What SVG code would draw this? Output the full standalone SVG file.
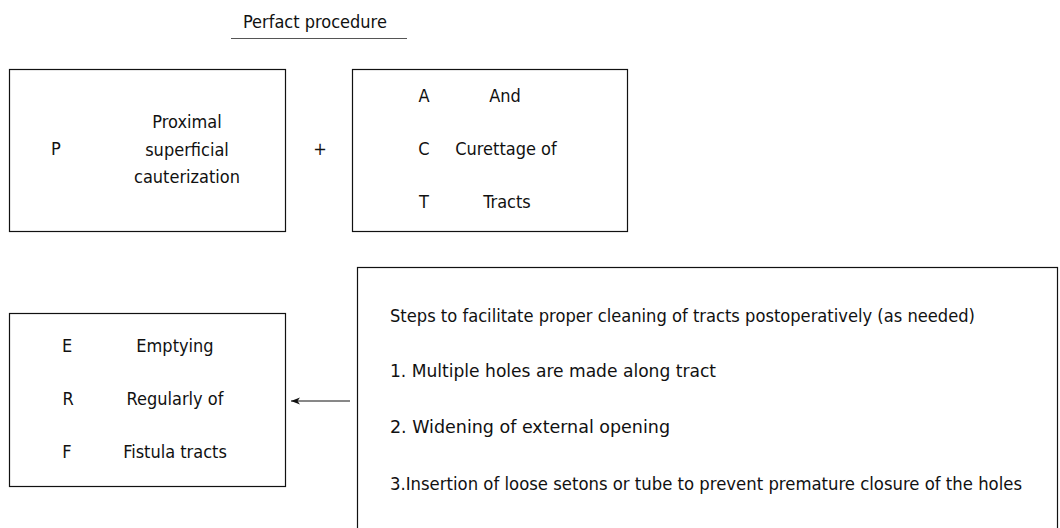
<svg xmlns="http://www.w3.org/2000/svg" width="1060" height="528" viewBox="0 0 1060 528">
<style>
text{font-family:"DejaVu Sans Condensed","DejaVu Sans",sans-serif;font-size:18px;fill:#111}
.m{text-anchor:middle}
.box{fill:#fff;stroke:#111;stroke-width:1.2}
.conn{stroke:#111;stroke-width:1;fill:none}
</style>
<defs>
<marker id="ah" markerWidth="10" markerHeight="8" refX="9" refY="4" orient="auto" markerUnits="userSpaceOnUse">
<path d="M0,0.5 L9,4 L0,7.5 L2.5,4 Z" fill="#111"/>
</marker>
</defs>
<rect width="1060" height="528" fill="#fff"/>
<g id="title">
<text x="243" y="28">Perfact procedure</text>
<line x1="231" y1="38.5" x2="407" y2="38.5" stroke="#555" stroke-width="1.2"/>
</g>
<g id="node-p">
<rect class="box" x="9.5" y="69.5" width="276" height="162"/>
<text class="m" x="56" y="155">P</text>
<text class="m" x="187" y="128">Proximal</text>
<text class="m" x="187" y="155.5">superficial</text>
<text class="m" x="187" y="183">cauterization</text>
</g>
<g id="plus">
<text class="m" x="320" y="155">+</text>
</g>
<g id="node-act">
<rect class="box" x="352.5" y="69.5" width="275" height="162"/>
<text class="m" x="424" y="102">A</text>
<text class="m" x="505" y="102">And</text>
<text class="m" x="424" y="155">C</text>
<text class="m" x="506" y="155">Curettage of</text>
<text class="m" x="424" y="208">T</text>
<text class="m" x="507" y="208">Tracts</text>
</g>
<g id="node-erf">
<rect class="box" x="9.5" y="313.5" width="276" height="173"/>
<text class="m" x="67" y="352">E</text>
<text class="m" x="175" y="352">Emptying</text>
<text class="m" x="68" y="405">R</text>
<text class="m" x="175" y="405">Regularly of</text>
<text class="m" x="67" y="458">F</text>
<text class="m" x="175" y="458">Fistula tracts</text>
</g>
<g id="node-steps">
<rect class="box" x="357.5" y="267.5" width="700" height="280"/>
<text x="390" y="322" textLength="585" lengthAdjust="spacingAndGlyphs">Steps to facilitate proper cleaning of tracts postoperatively (as needed)</text>
<text x="390" y="377" textLength="326" lengthAdjust="spacingAndGlyphs">1. Multiple holes are made along tract</text>
<text x="390" y="433" textLength="280" lengthAdjust="spacingAndGlyphs">2. Widening of external opening</text>
<text x="390" y="490" textLength="632" lengthAdjust="spacingAndGlyphs">3.Insertion of loose setons or tube to prevent premature closure of the holes</text>
</g>
<g id="connectors">
<line class="conn" x1="350" y1="401" x2="291" y2="401" marker-end="url(#ah)"/>
</g>
</svg>
